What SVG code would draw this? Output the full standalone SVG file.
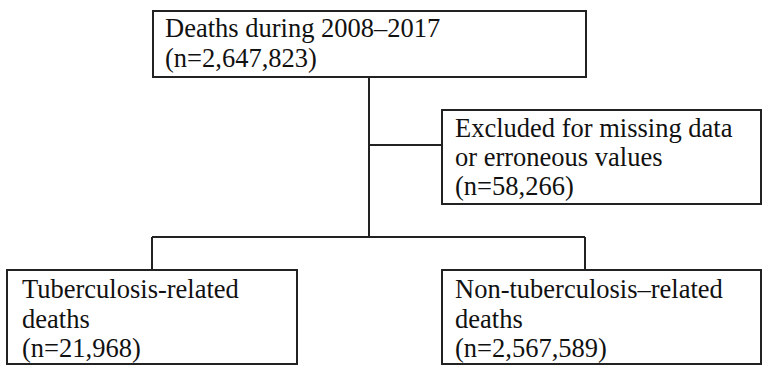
<svg xmlns="http://www.w3.org/2000/svg" width="765" height="370" viewBox="0 0 765 370">
<style>
.box{fill:#fff;stroke:#222;stroke-width:2}
.ln{fill:none;stroke:#222;stroke-width:2}
text{font-family:"Liberation Serif","Times New Roman",serif;font-size:26.5px;fill:#111}
</style>
<rect width="765" height="370" fill="#fff"/>
<g id="connectors">
<path class="ln" d="M369,77 V237"/>
<path class="ln" d="M369,145 H442"/>
<path class="ln" d="M152,237 H585"/>
<path class="ln" d="M152,237 V270"/>
<path class="ln" d="M585,237 V270"/>
</g>
<g id="deaths">
<rect class="box" x="153" y="11" width="433" height="66"/>
<text x="165" y="37">Deaths during 2008–2017</text>
<text x="165" y="67">(n=2,647,823)</text>
</g>
<g id="excluded">
<rect class="box" x="442" y="110" width="319" height="94"/>
<text x="455" y="137">Excluded for missing data</text>
<text x="455" y="166">or erroneous values</text>
<text x="455" y="195">(n=58,266)</text>
</g>
<g id="tb">
<rect class="box" x="7" y="270" width="290" height="94"/>
<text x="22" y="298">Tuberculosis-related</text>
<text x="22" y="328">deaths</text>
<text x="22" y="357">(n=21,968)</text>
</g>
<g id="nontb">
<rect class="box" x="442" y="270" width="319" height="94"/>
<text x="455" y="298">Non-tuberculosis–related</text>
<text x="455" y="328">deaths</text>
<text x="455" y="357">(n=2,567,589)</text>
</g>
</svg>
